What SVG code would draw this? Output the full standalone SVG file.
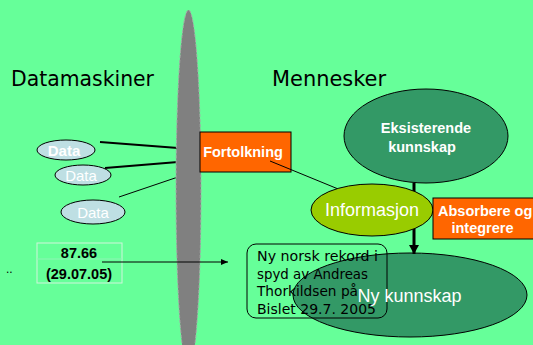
<svg xmlns="http://www.w3.org/2000/svg" width="533" height="345" viewBox="0 0 533 345">
<defs>
<style>
.bold{font-family:"Liberation Sans",Arial,sans-serif;font-weight:bold;fill:#fff}
.reg{font-family:"Liberation Sans",Arial,sans-serif;fill:#fff}
.comic{font-family:"DejaVu Sans",sans-serif;fill:#000}
.dataE{fill:#BEDFE3;stroke:#000;stroke-width:1}
.box{fill:#FF6600;stroke:#000;stroke-width:1}
</style>
<marker id="ahBig" markerUnits="userSpaceOnUse" markerWidth="12" markerHeight="10" refX="9" refY="5" orient="auto">
<path d="M0,0 L9,5 L0,10 Z" fill="#000"/>
</marker>
<marker id="ahSmall" markerUnits="userSpaceOnUse" markerWidth="8" markerHeight="6" refX="7" refY="3" orient="auto">
<path d="M0,0 L7,3 L0,6 Z" fill="#000"/>
</marker>
</defs>
<rect x="0" y="0" width="533" height="345" fill="#66FF99"/>

<g id="datamaskiner-label"><text class="comic" x="11" y="86" font-size="21" textLength="143" lengthAdjust="spacingAndGlyphs">Datamaskiner</text></g>
<g id="mennesker-label"><text class="comic" x="272" y="86" font-size="21" textLength="114" lengthAdjust="spacingAndGlyphs">Mennesker</text></g>

<g id="data-lines" stroke="#000" fill="none">
<line x1="100" y1="142" x2="178" y2="148" stroke-width="2"/>
<line x1="105" y1="168" x2="178" y2="162" stroke-width="2"/>
<line x1="119" y1="197" x2="178" y2="177" stroke-width="1"/>
</g>

<g id="barrier">
<ellipse cx="188.5" cy="190" rx="12.5" ry="180" fill="#808080" stroke="#A8A8A8" stroke-width="1" stroke-dasharray="3,2"/>
</g>

<g id="data1"><ellipse class="dataE" cx="66" cy="150" rx="29" ry="10"/><text class="bold" x="64" y="155.5" font-size="15" text-anchor="middle">Data</text></g>
<g id="data2"><ellipse class="dataE" cx="83" cy="175" rx="28" ry="10"/><text class="reg" x="81" y="180.5" font-size="15" text-anchor="middle">Data</text></g>
<g id="data3"><ellipse class="dataE" cx="93" cy="212" rx="32" ry="12"/><text class="reg" x="93" y="217.5" font-size="15" text-anchor="middle">Data</text></g>

<g id="record-data">
<rect x="37" y="243" width="85" height="40" fill="none" stroke="#CFF5DC" stroke-width="1"/>
<line x1="37" y1="259" x2="122" y2="259" stroke="#8FF5B5" stroke-width="1"/>
<text x="79" y="258" font-family="Liberation Sans, Arial, sans-serif" font-weight="bold" font-size="14.5" fill="#000" text-anchor="middle">87.66</text>
<text x="79" y="279" font-family="Liberation Sans, Arial, sans-serif" font-weight="bold" font-size="14.5" fill="#000" text-anchor="middle">(29.07.05)</text>
</g>
<g id="dots"><text x="6" y="273" font-family="Liberation Sans, Arial, sans-serif" font-size="12" fill="#000">..</text></g>

<g id="eksisterende"><ellipse cx="426" cy="136" rx="82" ry="47" fill="#339966" stroke="#000" stroke-width="1"/>
<text class="bold" x="426" y="133" font-size="14.5" text-anchor="middle">Eksisterende</text>
<text class="bold" x="422" y="152" font-size="14.5" text-anchor="middle">kunnskap</text></g>

<g id="ny-kunnskap"><ellipse cx="410" cy="295" rx="117" ry="42" fill="#339966" stroke="#000" stroke-width="1"/></g>

<g id="fortolkning"><rect class="box" x="200" y="132" width="91" height="40"/>
<text class="bold" x="243" y="157" font-size="14.5" text-anchor="middle">Fortolkning</text></g>

<g id="connectors" fill="none" stroke="#000">
<line x1="270" y1="161" x2="337" y2="188.5" stroke-width="1"/>
<line x1="414" y1="183" x2="414" y2="254" stroke-width="3" marker-end="url(#ahBig)"/>
<line x1="102" y1="262" x2="228" y2="262" stroke-width="1" marker-end="url(#ahSmall)"/>
</g>

<g id="informasjon"><ellipse cx="372" cy="210" rx="61" ry="26" fill="#99CC00" stroke="#000" stroke-width="1"/>
<text class="reg" x="372" y="216" font-size="18" text-anchor="middle">Informasjon</text></g>

<g id="absorbere"><rect class="box" x="433" y="198" width="110" height="41"/>
<text class="bold" x="438" y="216" font-size="14.5">Absorbere og</text>
<text class="bold" x="482.5" y="233" font-size="14.5" text-anchor="middle">integrere</text></g>

<g id="rekord-note">
<rect x="247" y="244" width="140" height="74" rx="9" ry="9" fill="none" stroke="#000" stroke-width="1"/>
<text class="comic" font-size="13.5">
<tspan x="257" y="261" textLength="121" lengthAdjust="spacingAndGlyphs">Ny norsk rekord i</tspan>
<tspan x="257" y="278.5" textLength="111" lengthAdjust="spacingAndGlyphs">spyd av Andreas</tspan>
<tspan x="257" y="296" textLength="101" lengthAdjust="spacingAndGlyphs">Thorkildsen på</tspan>
<tspan x="257" y="313.5" textLength="119" lengthAdjust="spacingAndGlyphs">Bislet 29.7. 2005</tspan>
</text>
</g>

<g id="ny-kunnskap-label"><text class="reg" x="409.5" y="302" font-size="18" text-anchor="middle">Ny kunnskap</text></g>
</svg>
